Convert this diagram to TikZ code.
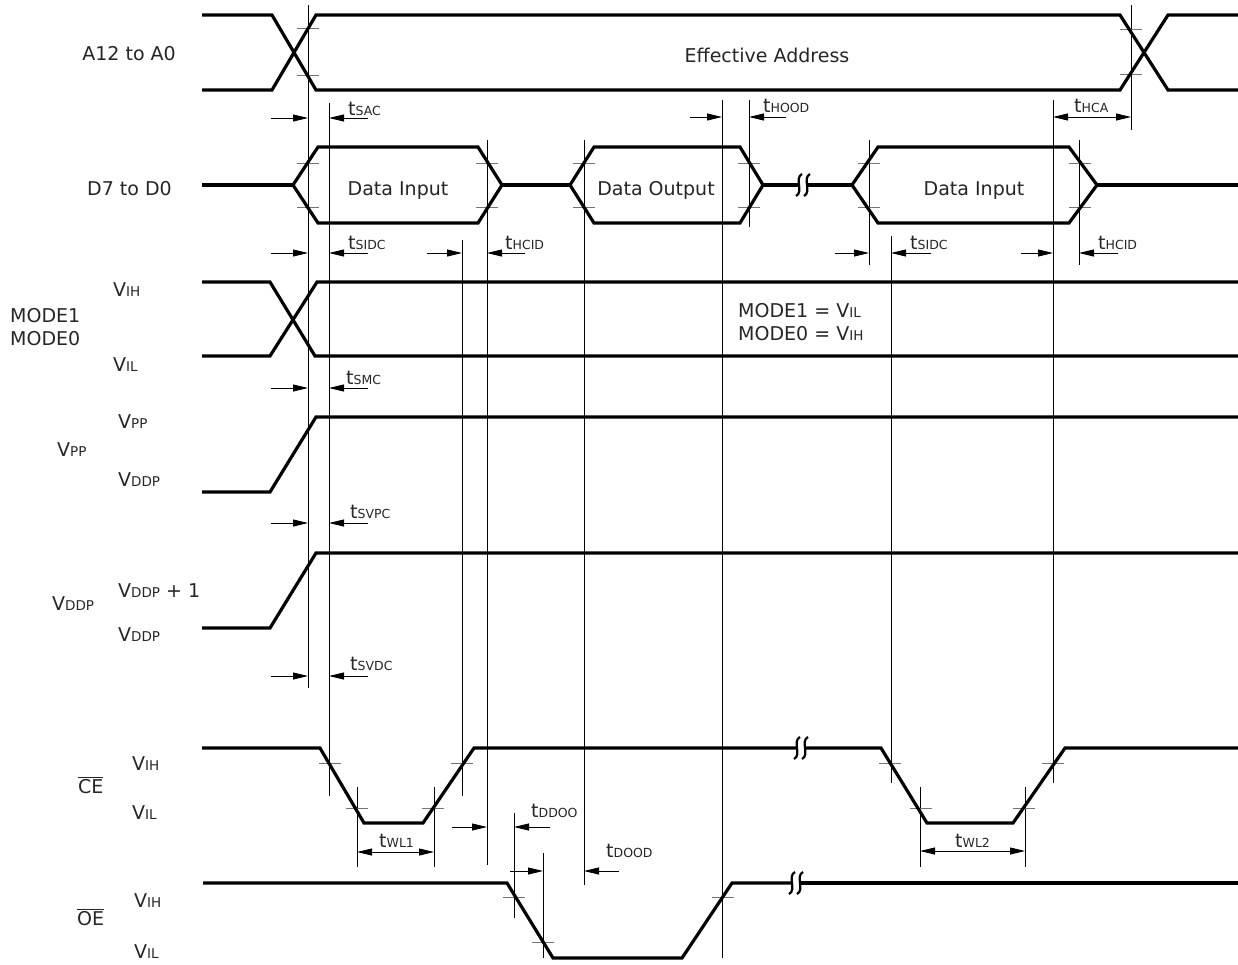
\documentclass[tikz,border=0pt]{standalone}
\usepackage{fontspec}
\setmainfont{DejaVu Sans}
\usetikzlibrary{arrows.meta}
\newcommand\lvsub[1]{{\fontsize{13.5}{14}\selectfont #1}}
\newcommand\tmsub[1]{{\fontsize{12.5}{13}\selectfont #1}}
\newcommand\Lv[1]{V\lvsub{#1}}
\newcommand\Tm[1]{t\tmsub{#1}}
\begin{document}
\begin{tikzpicture}[x=1pt,y=-1pt,
  sig/.style={line width=3.2pt},
  refl/.style={line width=0.8pt},
  tk/.style={line width=0.8pt, black!55},
  dimr/.style={line width=0.8pt,-{Triangle[length=15pt,width=7pt]}},
  dimb/.style={line width=0.8pt,{Triangle[length=15pt,width=7pt]}-{Triangle[length=15pt,width=7pt]}},
  txt/.style={inner sep=0pt, font=\fontsize{19}{22}\selectfont, text=black!85},
  lbl/.style={txt, anchor=base west},
  brk/.pic={\draw[line width=2.2pt] (3,-11) .. controls (-5,-7) and (5,7) .. (-3,11);}
]
\useasboundingbox (0,0) rectangle (1238,964);
\fill[white] (0,0) rectangle (1238,964);

% reference verticals
\foreach \x/\a/\b in {308/5/688, 329/103/796, 462/240/796, 487/140/865, 584/140/885,
  722/100/958, 749/100/227, 869/140/265, 891/236/783, 1053/100/783, 1079/140/265,
  1131/5/130, 357/787/867, 434/787/867, 920/787/867, 1025/787/867, 514/813/918, 543/853/958}
  \draw[refl] (\x,\a) -- (\x,\b);

% threshold ticks
\foreach \x/\y in {308/28, 308/75, 1131/29, 1131/74,
  308/163, 308/207, 487/163, 487/207, 584/163, 584/207, 749/163, 749/207,
  869/163, 869/207, 1080/163, 1080/207,
  330/763, 357/808, 462/763, 433/808, 890/763, 921/808, 1024/808, 1053/763,
  514/897, 543/942, 723/897}
  \draw[tk] (\x-11,\y) -- (\x+11,\y);

% A12 to A0
\draw[sig] (202,15) -- (272,15) -- (316,90) -- (1120,90) -- (1168,15) -- (1238,15);
\draw[sig] (202,90) -- (272,90) -- (316,15) -- (1120,15) -- (1168,90) -- (1238,90);

% D7 to D0
\draw[sig] (202,185) -- (293,185);
\draw[sig] (293,185) -- (318,147) -- (478,147) -- (502,185) -- (478,223) -- (318,223) -- cycle;
\draw[sig] (502,185) -- (570,185);
\draw[sig] (570,185) -- (594,147) -- (740,147) -- (763,185) -- (740,223) -- (594,223) -- cycle;
\draw[sig] (763,185) -- (799,185);
\draw[sig] (807,185) -- (852,185);
\draw[sig] (852,185) -- (878,147) -- (1069,147) -- (1097,185) -- (1069,223) -- (878,223) -- cycle;
\draw[sig] (1097,185) -- (1238,185);
\pic at (799,185) {brk};
\pic at (807,185) {brk};

% MODE
\draw[sig] (202,282) -- (270,282) -- (315,356) -- (1238,356);
\draw[sig] (202,356) -- (270,356) -- (317,282) -- (1238,282);

% VPP
\draw[sig] (202,492) -- (270,492) -- (316,417) -- (1238,417);
% VDDP
\draw[sig] (202,628) -- (270,628) -- (316,553) -- (1238,553);

% CE
\draw[sig] (202,748) -- (320,748) -- (364,823) -- (423,823) -- (474,748) -- (797,748);
\draw[sig] (805,748) -- (881,748) -- (927,823) -- (1013,823) -- (1065,748) -- (1238,748);
\pic at (797,748) {brk};
\pic at (805,748) {brk};

% OE
\draw[sig] (203,883) -- (507,883) -- (553,958) -- (682,958) -- (732,883) -- (792,883);
\draw[sig] (800,883) -- (1238,883);
\pic at (792,883) {brk};
\pic at (800,883) {brk};

% dimension arrows
\foreach \y in {118,253,388,523,676}{
  \draw[dimr] (271,\y) -- (308,\y);
  \draw[dimr] (368,\y) -- (329,\y);
}
\draw[dimr] (690,117) -- (722,117);
\draw[dimr] (786,117) -- (749,117);
\draw[dimb] (1053,117) -- (1131,117);
\draw[dimr] (427,253) -- (462,253);
\draw[dimr] (525,253) -- (487,253);
\draw[dimr] (835,253) -- (869,253);
\draw[dimr] (931,253) -- (891,253);
\draw[dimr] (1021,253) -- (1053,253);
\draw[dimr] (1118,253) -- (1079,253);
\draw[dimb] (357,852) -- (434,852);
\draw[dimr] (452,827) -- (487,827);
\draw[dimr] (550,827) -- (514,827);
\draw[dimr] (510,871) -- (543,871);
\draw[dimr] (619,871) -- (584,871);
\draw[dimb] (920,851) -- (1025,851);

% texts
\node[txt, anchor=base] (ea) at (767,62) {Effective Address};
\node[txt, anchor=base] (di1) at (398,195) {Data Input};
\node[txt, anchor=base] (do) at (656,195) {Data Output};
\node[txt, anchor=base] (di2) at (974,195) {Data Input};
\node[txt, anchor=base east] (na) at (176,60) {A12 to A0};
\node[txt, anchor=base east] (nd) at (172,195) {D7 to D0};
\node[lbl] (nm1) at (10,322) {MODE1};
\node[lbl] (nm0) at (10,345) {MODE0};
\node[lbl] (nvpp) at (57,456) {\Lv{PP}};
\node[lbl] (nvddp) at (52,610) {\Lv{DDP}};
\node[lbl] (nce) at (78,793) {$\overline{\mbox{CE}}$};
\node[lbl] (noe) at (77,925) {$\overline{\mbox{OE}}$};

\node[lbl] (m1) at (738,317) {MODE1 = \Lv{IL}};
\node[lbl] (m0) at (738,340) {MODE0 = \Lv{IH}};

\node[lbl] (lmh) at (113,296) {\Lv{IH}};
\node[lbl] (lml) at (113,371) {\Lv{IL}};
\node[lbl] (lpp) at (118,428) {\Lv{PP}};
\node[lbl] (lpd) at (118,486) {\Lv{DDP}};
\node[lbl] (ldh) at (118,597) {\Lv{DDP} + 1};
\node[lbl] (ldl) at (118,641) {\Lv{DDP}};
\node[lbl] (lch) at (132,770) {\Lv{IH}};
\node[lbl] (lcl) at (132,819) {\Lv{IL}};
\node[lbl] (loh) at (134,907) {\Lv{IH}};
\node[lbl] (lol) at (134,958) {\Lv{IL}};

\node[lbl] (tsac) at (348,115) {\Tm{SAC}};
\node[lbl] (thood) at (763,112) {\Tm{HOOD}};
\node[lbl] (thca) at (1074,112) {\Tm{HCA}};
\node[lbl] (tsidc1) at (348,249) {\Tm{SIDC}};
\node[lbl] (thcid1) at (505,249) {\Tm{HCID}};
\node[lbl] (tsidc2) at (910,249) {\Tm{SIDC}};
\node[lbl] (thcid2) at (1098,249) {\Tm{HCID}};
\node[lbl] (tsmc) at (346,384) {\Tm{SMC}};
\node[lbl] (tsvpc) at (350,518) {\Tm{SVPC}};
\node[lbl] (tsvdc) at (350,670) {\Tm{SVDC}};
\node[lbl] (twl1) at (379,847) {\Tm{WL1}};
\node[lbl] (tddoo) at (531,817) {\Tm{DDOO}};
\node[lbl] (tdood) at (606,857) {\Tm{DOOD}};
\node[lbl] (twl2) at (955,847) {\Tm{WL2}};
\end{tikzpicture}
\end{document}
